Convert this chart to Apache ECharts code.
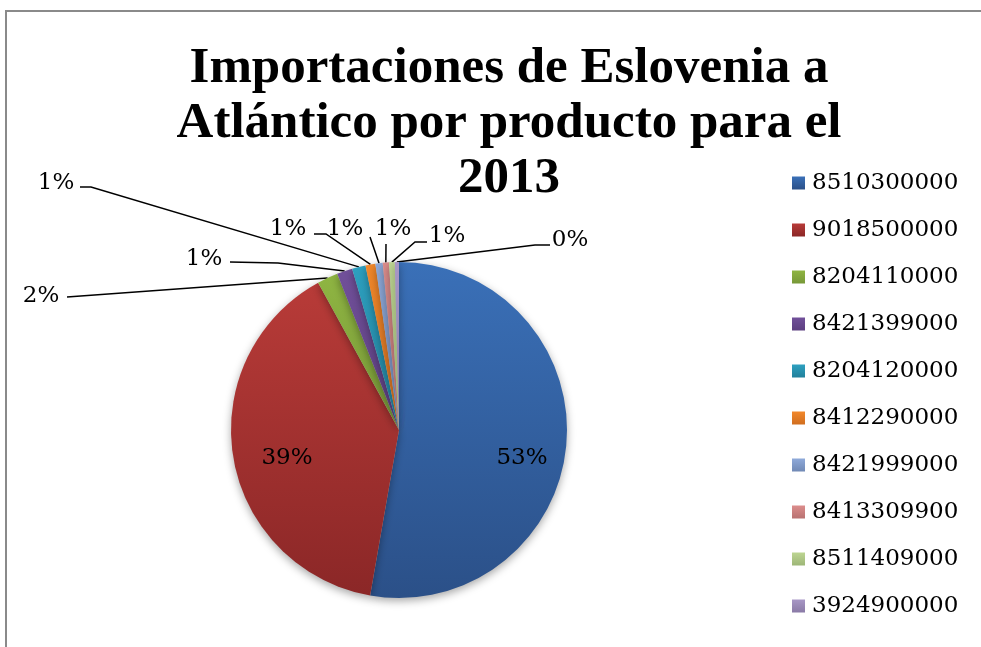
<!DOCTYPE html>
<html><head><meta charset="utf-8">
<script src="https://cdn.jsdelivr.net/npm/echarts@6/dist/echarts.min.js"></script>
<style>html,body{margin:0;padding:0;background:#fff}#c{width:981px;height:647px}</style>
</head><body><div id="c"></div>
<script>
const categories = ['8510300000','9018500000','8204110000','8421399000','8204120000','8412290000','8421999000','8413309900','8511409000','3924900000'];
const values = [52.8, 39.3, 2.0, 1.5, 1.3, 0.95, 0.7, 0.6, 0.55, 0.4];
const titleText = 'Importaciones de Eslovenia a\nAtlántico por producto para el\n2013';

const topColors = ['#3A70B8','#B83B38','#8FB542','#71509A','#2DA0C0','#F2882B','#8FAADA','#DC8D8C','#BDD592','#A897C6'];
const botColors = ['#2B5088','#8B2727','#779838','#5C3F80','#22809B','#D06E1F','#7089B5','#B87271','#9DB677','#8A7AA6'];

const labelPos = [[522,458],[287,458],[41,296],[204,259],[56,183],[288,229],[345,229],[393,229],[447,236],[570,240]];
const bends = [null,null,null,[278,263],[91,187],[326,234],null,null,[415,242],[535,245]];
const ends = [null,null,[67,297],[230,262],[80,187],[314,234],[370,237],[386,244],[427,242],[550,245]];

const total = values.reduce((a,b)=>a+b,0);
const chart = echarts.init(document.getElementById('c'));
const data = values.map((v,i)=>({
  name: categories[i], value: v,
  itemStyle: { color: new echarts.graphic.LinearGradient(0,0,0,1,[{offset:0,color:topColors[i]},{offset:1,color:botColors[i]}]) },
  labelLine: { show: i >= 2 }
}));
chart.setOption({
  backgroundColor: '#fff',
  animation: false,
  graphic: [{ type:'rect', shape:{x:6,y:11,width:1200,height:900}, style:{fill:'none', stroke:'#8a8a8a', lineWidth:2}, silent:true }],
  title: {
    text: titleText, left: 504, top: 36, textAlign: 'center',
    textStyle: { fontFamily: 'Liberation Serif', fontWeight: 'bold', fontSize: 51, lineHeight: 55, color: '#000' }
  },
  legend: {
    orient: 'vertical', left: 792, top: 171, padding: 0, itemWidth: 13, itemHeight: 13, itemGap: 23, icon: 'rect',
    data: categories,
    textStyle: { fontFamily: 'DejaVu Serif', fontSize: 23, color: '#000', lineHeight: 24, padding: [0,0,0,2] }
  },
  series: [{
    type: 'pie', center: [399,430], radius: 168, startAngle: 90, clockwise: true,
    data: data,
    itemStyle: { borderWidth: 0, shadowBlur: 8, shadowColor: 'rgba(0,0,0,0.35)', shadowOffsetY: 3 },
    label: {
      show: true, position: 'outside', color: '#000', fontFamily: 'DejaVu Serif', fontSize: 23,
      formatter: p => Math.round(p.value / total * 100) + '%'
    },
    labelLine: { show: true, length: 10, length2: 10, lineStyle: { color: '#000', width: 1.5 } },
    labelLayout: function (p) {
      const i = p.dataIndex;
      const r = { x: labelPos[i][0], y: labelPos[i][1], align: 'center', verticalAlign: 'middle' };
      if (i >= 2 && p.labelLinePoints) {
        const s = p.labelLinePoints[0];
        const e = ends[i];
        const m = bends[i] || [(s[0]+e[0])/2, (s[1]+e[1])/2];
        r.labelLinePoints = [s, m, e];
      }
      return r;
    },
    emphasis: { disabled: true }
  }]
});
</script></body></html>
